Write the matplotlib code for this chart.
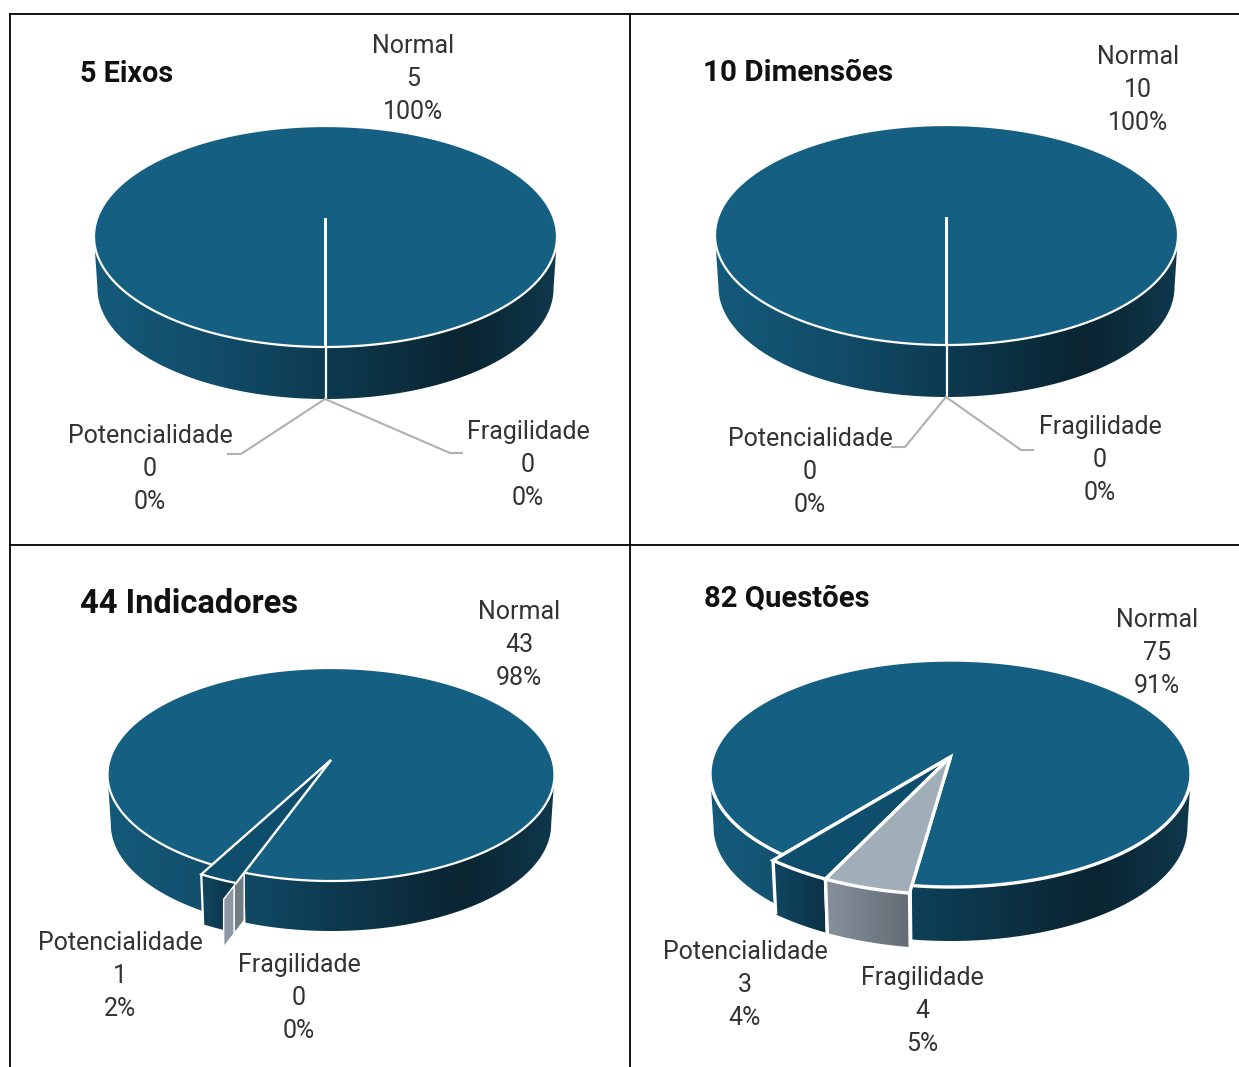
import numpy as np
import matplotlib
matplotlib.use("Agg")
import matplotlib.pyplot as plt
from matplotlib.colors import LinearSegmentedColormap
from matplotlib.patches import Polygon

plt.rcParams['font.family'] = ['Roboto', 'DejaVu Sans']

categories = ['Fragilidade', 'Potencialidade', 'Normal']

titles = ['5 Eixos', '10 Dimensões', '44 Indicadores', '82 Questões']
values_eixos = [0, 0, 5]
values_dimensoes = [0, 0, 10]
values_indicadores = [0, 1, 43]
values_questoes = [4, 3, 75]

all_values = [values_eixos, values_dimensoes, values_indicadores, values_questoes]

# layout of each pie in pixels: apex x, apex y, half width, top, bottom, depth, start angle
pie_layout = [
    (325.5, 218, 231.5, 126, 347, 52, 180),
    (946.5, 217, 231.5, 125, 345, 52, 180),
    (331, 760, 223.5, 668, 881, 50, 200),
    (950.5, 757, 240.5, 660, 887, 54, 188),
]
# how far the small slices are pulled out
pull_out = [
    (1.0, 1.0),
    (1.0, 1.0),
    (1.2, 1.08),
    (1.05, 1.05),
]
edge_width = [1.6, 1.6, 1.6, 2.4]

title_pos = [(80, 74, 20.7), (703, 73, 21.3), (80, 604, 23.5), (704, 599, 21.1)]
label_pos = [
    {'Normal': (413, 79), 'Potencialidade': (150, 469), 'Fragilidade': (528, 465)},
    {'Normal': (1138, 90), 'Potencialidade': (810, 472), 'Fragilidade': (1100, 460)},
    {'Normal': (519, 645), 'Potencialidade': (120, 976), 'Fragilidade': (299, 998)},
    {'Normal': (1157, 653), 'Potencialidade': (745, 985), 'Fragilidade': (922, 1011)},
]
leaders = [
    [[(325, 399), (241, 454), (228, 454)], [(325, 399), (450, 453), (462, 453)]],
    [[(946, 397), (905, 447), (892, 447)], [(946, 397), (1021, 450), (1033, 450)]],
    [],
    [],
]

top_colors = {'Normal': '#156082', 'Potencialidade': '#0f4d6c', 'Fragilidade': '#a0aeb9'}
side_normal = LinearSegmentedColormap.from_list(
    'side', [(0, '#155a7a'), (0.3, '#114a66'), (0.5, '#0d3a50'), (0.8, '#0a2431'), (1, '#0f384c')])
side_pot = LinearSegmentedColormap.from_list('pot', ['#0f4560', '#0b3348'])
side_frag = LinearSegmentedColormap.from_list('frag', ['#87919c', '#636c75'])


def rim(theta, r, ax0, ay0, rx0, ry0, k):
    s = np.sin(np.radians(theta)) * r
    c = np.cos(np.radians(theta)) * r
    w = 1 + k * c
    return ax0 + rx0 * s / w, ay0 - ry0 * c / w


def draw_pie(ax, vals, layout, pull, lw):
    ax0, ay0, half, top, bottom, depth, start = layout
    up = ay0 - top
    down = bottom - ay0
    k = (down - up) / (down + up)
    ry0 = up * (1 + k)
    rx0 = half * np.sqrt(1 - k * k)
    narrow = 0.985
    geo = (ax0, ay0, rx0, ry0, k)
    # angle where the rim is widest, the side is seen only in front of it
    widest = np.degrees(np.arccos(-k))

    total = sum(vals)
    pull_by_name = {'Fragilidade': pull[0], 'Potencialidade': pull[1], 'Normal': 1.0}
    spans = {}
    a = start
    for name, v in zip(categories, vals):
        spans[name] = (a, a + 360.0 * v / total)
        a = spans[name][1]

    def side(name, cmap, x0, x1, z):
        a0, a1 = spans[name]
        if a1 <= a0:
            return
        r = pull_by_name[name]
        for lo, hi in [(widest, 360 - widest), (360 + widest, 720 - widest)]:
            b0, b1 = max(a0, lo), min(a1, hi)
            if b1 <= b0:
                continue
            th = np.linspace(b0, b1, 361)
            x, y = rim(th, r, *geo)
            xb = ax0 + (x - ax0) * narrow
            yb = y + depth
            outline = list(zip(x, y)) + list(zip(xb, yb))[::-1]
            clip = Polygon(outline, closed=True, transform=ax.transData, facecolor='none', edgecolor='none')
            ax.add_patch(clip)
            grad = np.linspace(0, 1, 256).reshape(1, -1)
            im = ax.imshow(grad, cmap=cmap, extent=(x0, x1, y.max() + depth + 5, y.min() - 5), aspect='auto',
                           interpolation='bilinear', zorder=z)
            im.set_clip_path(clip)
        # white edges of the slice, Normal's far end stays hidden behind the slices
        ends = [a0] if name == 'Normal' else [a0, a1]
        for e in ends:
            x, y = rim(e, r, *geo)
            ax.plot([x, ax0 + (x - ax0) * narrow], [y, y + depth], color='white', lw=lw,
                    solid_capstyle='butt', zorder=z + 0.1)

    side('Normal', side_normal, ax0 - half, ax0 + half, 1)
    z = 1.2
    for name, cmap in [('Potencialidade', side_pot), ('Fragilidade', side_frag)]:
        a0, a1 = spans[name]
        if a1 > a0:
            px, _ = rim(np.array([a1, a0]), pull_by_name[name], *geo)
            side(name, cmap, px[0], px[1], z)
        z += 0.2

    # slice with no value that is pulled out shows only its wall
    for name in ['Potencialidade', 'Fragilidade']:
        a0, a1 = spans[name]
        r = pull_by_name[name]
        if a1 == a0 and r > 1:
            x, y = rim(np.array([a0, a0, a0]), np.array([1.0, 0.5 * (1.0 + r), r]), *geo)
            for i, col in enumerate(['#727c87', '#8d97a3']):
                ax.add_patch(Polygon([(x[i], y[i]), (x[i + 1], y[i + 1]),
                                      (x[i + 1], y[i + 1] + depth - 2), (x[i], y[i] + depth - 2)],
                                     closed=True, facecolor=col, edgecolor='white', lw=1.0, zorder=3))

    # top faces, Normal first so the small ones sit on it
    for name in ['Normal', 'Potencialidade', 'Fragilidade']:
        a0, a1 = spans[name]
        if a1 <= a0:
            continue
        th = np.linspace(a0, a1, 721)
        x, y = rim(th, pull_by_name[name], *geo)
        pts = [(ax0, ay0)] + list(zip(x, y))
        ax.add_patch(Polygon(pts, closed=True, facecolor=top_colors[name], edgecolor='white',
                             lw=lw, joinstyle='miter', zorder=4))


fig = plt.figure(figsize=(12.39, 10.67), dpi=100)
ax = fig.add_axes([0, 0, 1, 1])

for i in range(4):
    draw_pie(ax, all_values[i], pie_layout[i], pull_out[i], edge_width[i])

    for path in leaders[i]:
        ax.plot([p[0] for p in path], [p[1] for p in path], color='#b0b0b0', lw=1.5, zorder=2)

    vals = all_values[i]
    total = sum(vals)
    for name, v in zip(categories, vals):
        lx, ly = label_pos[i][name]
        lines = [name, str(v), f'{100 * v / total:.0f}%']
        for j, line in enumerate(lines):
            ax.text(lx, ly + (j - 1) * 33, line, ha='center', va='center',
                    fontsize=18, color='#333333', zorder=6)

    tx, ty, ts = title_pos[i]
    ax.text(tx, ty, titles[i], ha='left', va='center', fontsize=ts, fontweight='bold',
            color='#111111', zorder=6)

# table grid
ax.plot([10, 1239], [14, 14], color='black', lw=1.3, zorder=7)
ax.plot([10, 1239], [545, 545], color='black', lw=1.3, zorder=7)
ax.plot([10, 10], [14, 1067], color='black', lw=1.3, zorder=7)
ax.plot([630, 630], [14, 1067], color='black', lw=1.3, zorder=7)

ax.set_xlim(0, 1239)
ax.set_ylim(1067, 0)
ax.axis('off')

fig.savefig('out.png', dpi=100)
